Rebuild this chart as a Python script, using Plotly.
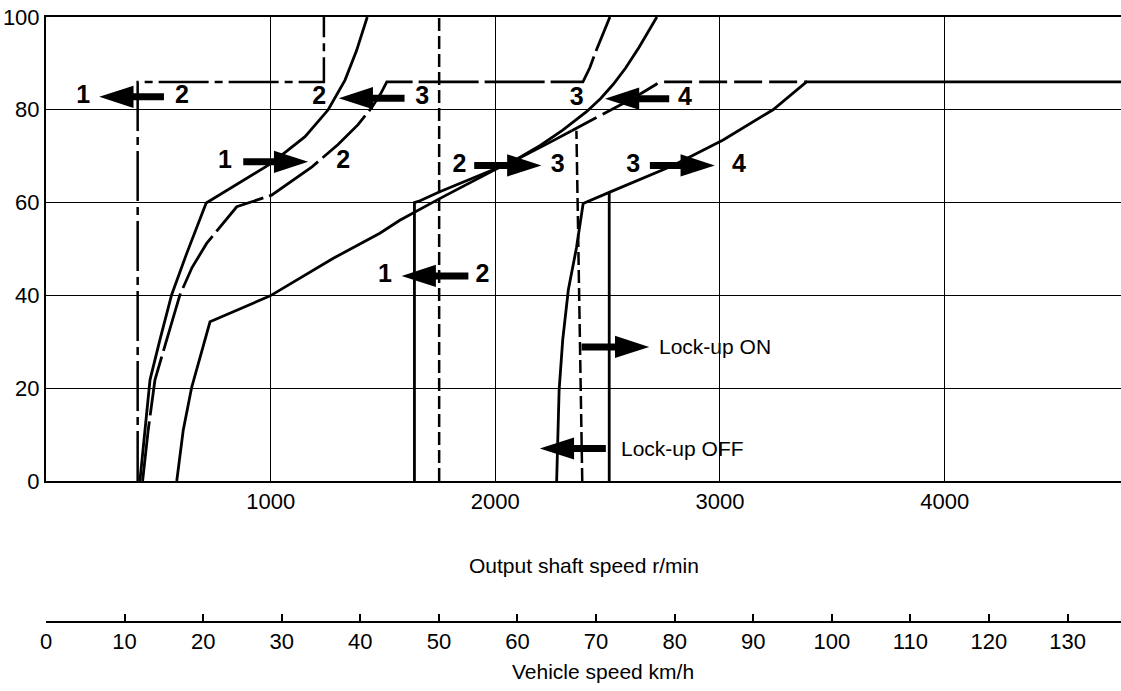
import plotly.graph_objects as go

FONT = "Liberation Sans, Arial, sans-serif"

# ---------------- axis ticks ----------------
speed_ticks = [1000, 2000, 3000, 4000]
throttle_ticks = [0, 20, 40, 60, 80, 100]
vehicle_ticks = [0, 10, 20, 30, 40, 50, 60, 70, 80, 90, 100, 110, 120, 130]

# ---------------- shift lines (output shaft speed r/min, throttle %) ----------------
line_a_speed = [418, 440, 463, 507, 559, 626, 713, 1004, 1153, 1256, 1331, 1382, 1430]
line_a_throttle = [0, 11, 21.8, 30.4, 40.1, 49, 59.9, 68.5, 74.2, 80, 86.4, 92.7, 100]

line_b_speed = [430, 455, 485, 537, 596, 650, 715, 849, 1004, 1184, 1300, 1389, 1450, 1490, 1517,
                2390, 2420, 2450, 2480, 2510]
line_b_throttle = [0, 11, 21.8, 30.4, 40.1, 46, 51.2, 59.1, 61.6, 67.7, 72.5, 76.8, 80.5, 83.5, 86,
                   86, 89, 92.9, 96.5, 100]

line_c_speed = [582, 611, 648, 730, 998, 1279, 1486, 1575, 1750, 2006, 2080, 2200, 2300, 2406,
                2470, 2525, 2580, 2640, 2719]
line_c_throttle = [0, 11, 20.1, 34.3, 39.9, 48, 53.4, 56.2, 60.8, 67.3, 68.9, 72.3, 75.6, 79.6,
                   82.5, 85.5, 89, 93.5, 100]

line_d_speed = [1640, 1640, 1665, 1750, 2006, 2080, 2228, 2340]
line_d_throttle = [0, 60, 60.4, 62.3, 67.4, 68.9, 72.6, 75.5]

line_d_dash_speed = [2340, 2614, 2733, 3387]
line_d_dash_throttle = [75.5, 82.5, 86, 86]

line_e_speed = [2273, 2284, 2300, 2325, 2361, 2391, 2507, 2791, 3014, 3236, 3385, 4800]
line_e_throttle = [0, 19.6, 30.4, 41.2, 50.2, 59.8, 62.2, 68, 73.5, 80, 86, 86]

line_h_speed = [408, 408, 1237, 1237]
line_h_throttle = [0, 86, 86, 100]

kick_speed = [1750, 1750]
kick_throttle = [0, 100]

lockup_on_speed = [2507, 2507]
lockup_on_throttle = [0, 62.2]

lockup_off_speed = [2387, 2361]
lockup_off_throttle = [0, 75.5]

# ---------------- arrows: (tail speed, tip speed, throttle) ----------------
arrow_tail = [525, 1596, 878, 1906, 2774, 2688, 1880, 2384, 2492]
arrow_tip = [237, 1303, 1167, 2205, 2488, 2977, 1583, 2685, 2198]
arrow_throttle = [82.8, 82.5, 68.8, 68.0, 82.4, 68.0, 44.2, 28.9, 7.0]

# ---------------- gear numbers ----------------
gear_text = ["1", "2", "2", "3", "1", "2", "2", "3", "3", "4", "3", "4", "1", "2"]
gear_speed = [166, 605, 1216, 1675, 797, 1323, 1840, 2278, 2362, 2844, 2614, 3084, 1509, 1943]
gear_throttle = [82.8, 82.8, 82.5, 82.5, 68.8, 68.8, 68.0, 68.0, 82.4, 82.4, 68.0, 68.0, 44.2, 44.2]

lockup_labels = ["Lock-up ON", "Lock-up OFF"]
lockup_label_speed = [2718, 2551]
lockup_label_throttle = [28.9, 7.0]

fig = go.Figure()


def add_line(xs, ys, dash="solid", width=2.8):
    fig.add_trace(go.Scatter(x=xs, y=ys, mode="lines",
                             line=dict(color="black", width=width, dash=dash),
                             hoverinfo="skip", showlegend=False))


add_line(line_h_speed, line_h_throttle, dash="50px,6px,8px,6px", width=2.5)
add_line(line_a_speed, line_a_throttle)
add_line(line_b_speed, line_b_throttle, dash="60px,6px")
add_line(line_c_speed, line_c_throttle)
add_line(line_d_speed, line_d_throttle)
add_line(line_d_dash_speed, line_d_dash_throttle, dash="28px,7px")
add_line(line_e_speed, line_e_throttle)
add_line(kick_speed, kick_throttle, dash="13px,5px", width=2.5)
add_line(lockup_on_speed, lockup_on_throttle)
add_line(lockup_off_speed, lockup_off_throttle, dash="13px,5px", width=2.5)

for t, p, yv in zip(arrow_tail, arrow_tip, arrow_throttle):
    fig.add_trace(go.Scatter(
        x=[t, p], y=[yv, yv], mode="lines+markers",
        line=dict(color="black", width=7),
        marker=dict(symbol=["circle", "arrow"], size=[0, 36], angleref="previous",
                    color="black", opacity=1, line=dict(width=0, color="black")),
        hoverinfo="skip", showlegend=False))

fig.add_trace(go.Scatter(
    x=gear_speed, y=gear_throttle, mode="text", text=gear_text,
    textposition="middle center",
    textfont=dict(family=FONT, size=25, color="black", weight="bold"),
    hoverinfo="skip", showlegend=False))

# invisible trace to carry the vehicle-speed axis
fig.add_trace(go.Scatter(x=[0, 136.8], y=[None, None], xaxis="x2", yaxis="y",
                         mode="lines", hoverinfo="skip", showlegend=False))

annotations = []
for txt, xs, ys in zip(lockup_labels, lockup_label_speed, lockup_label_throttle):
    annotations.append(dict(x=xs, y=ys, xref="x", yref="y", text=txt, showarrow=False,
                            xanchor="left", yanchor="middle",
                            font=dict(family=FONT, size=21, color="black")))
annotations.append(dict(x=0.5, y=0.0942, xref="paper", yref="paper",
                        text="Output shaft speed r/min", showarrow=False,
                        xanchor="center", yanchor="middle",
                        font=dict(family=FONT, size=21, color="black")))
annotations.append(dict(x=0.518, y=-0.0826, xref="paper", yref="paper",
                        text="Vehicle speed km/h", showarrow=False,
                        xanchor="center", yanchor="middle",
                        font=dict(family=FONT, size=21, color="black")))

tickfont = dict(family=FONT, size=22, color="black")

fig.update_layout(
    width=1121, height=691,
    margin=dict(l=46, r=0, t=17, b=69),
    plot_bgcolor="white", paper_bgcolor="white",
    showlegend=False,
    annotations=annotations,
    xaxis=dict(range=[0, 4785], tickvals=speed_ticks, showgrid=True, gridcolor="black",
               gridwidth=1.3, showline=True, linecolor="black", linewidth=2, mirror=True,
               ticks="", zeroline=False, tickfont=tickfont, anchor="y", automargin=False),
    yaxis=dict(range=[0, 100], domain=[0.2331, 1], tickvals=throttle_ticks, showgrid=True,
               gridcolor="black", gridwidth=1.3, showline=True, linecolor="black",
               linewidth=2, ticks="", zeroline=False, tickfont=tickfont, automargin=False),
    xaxis2=dict(overlaying="x", anchor="free", position=0, side="bottom",
                range=[0, 136.8], tickvals=vehicle_ticks, ticks="inside", ticklen=7,
                tickwidth=1.5, tickcolor="black", showline=True, linewidth=2,
                linecolor="black", showgrid=False, zeroline=False, tickfont=tickfont,
                automargin=False),
)

fig.write_html(
    "out.html",
    config={"displayModeBar": False},
    post_script="document.body.style.margin='0';document.body.style.overflow='hidden';",
)
